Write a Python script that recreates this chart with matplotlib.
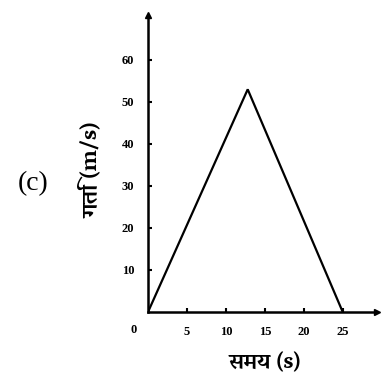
import matplotlib
matplotlib.use("Agg")
import matplotlib.pyplot as plt

# speed-time graph, panel (c)
time_s = [0, 12.8, 25]
speed = [0, 53, 0]

x_ticks = [5, 10, 15, 20, 25]
y_ticks = [10, 20, 30, 40, 50, 60]

SERIF = ['Liberation Serif', 'DejaVu Serif']
DEVA = ['Vesper Libre', 'Liberation Serif']

fig = plt.figure(figsize=(3.81, 3.80), dpi=100)
ax = fig.add_axes([148 / 381, 68 / 380, 229 / 381, 297 / 380])

ax.plot(time_s, speed, color='black', lw=1.6, solid_joinstyle='miter')
ax.set_xlim(0, 29.4)
ax.set_ylim(0, 70.7)

for side in ['top', 'right']:
    ax.spines[side].set_visible(False)
for side in ['left', 'bottom']:
    ax.spines[side].set_linewidth(1.8)

# arrow heads on the axes
ax.plot(1, 0, '>', color='black', ms=5, transform=ax.transAxes, clip_on=False)
ax.plot(0, 1, '^', color='black', ms=5, transform=ax.transAxes, clip_on=False)

ax.set_xticks(x_ticks)
ax.set_yticks(y_ticks)
ax.set_xticklabels([str(v) for v in x_ticks], family=SERIF, fontsize=9,
                   fontweight='bold')
ax.set_yticklabels([str(v) for v in y_ticks], family=SERIF, fontsize=9,
                   fontweight='bold')
ax.tick_params(direction='in', length=3, width=1.5)
ax.tick_params(axis='x', pad=10)
ax.tick_params(axis='y', pad=10)

ax.text(-1.9, -4.3, '0', family=SERIF, fontsize=9, fontweight='bold',
        ha='center', va='center')

ax.set_xlabel('समय (s)', family=DEVA, fontsize=16, fontweight='bold',
              va='center')
ax.xaxis.set_label_coords(117 / 229, -51 / 297)
ax.set_ylabel('गति (m/s)', family=DEVA, fontsize=16.5, fontweight='bold',
              va='center')
ax.yaxis.set_label_coords(-57 / 229, 142 / 297)

fig.text(33 / 381, 1 - 184 / 380, '(c)', family=SERIF, fontsize=20,
         ha='center', va='center')

fig.savefig('out.png', dpi=100)
